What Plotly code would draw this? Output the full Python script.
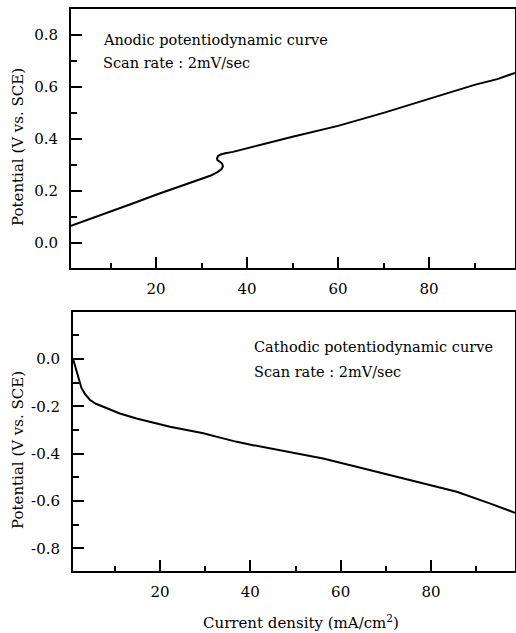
import plotly.graph_objects as go

# ---- data ----
anodic_x = [1.3, 5, 10, 15, 20, 25, 29.6, 31.9, 33.5, 34.4, 34.7, 34.5, 34.0, 33.5, 33.4,
            33.6, 34.2, 35.2, 36.9, 39.6, 42.9, 50, 60, 70, 80, 90, 95, 98.9]
anodic_y = [0.065, 0.088, 0.119, 0.152, 0.185, 0.216, 0.244, 0.258, 0.272, 0.284, 0.295,
            0.305, 0.312, 0.318, 0.325, 0.333, 0.340, 0.345, 0.350, 0.362, 0.377, 0.408,
            0.450, 0.500, 0.554, 0.608, 0.630, 0.654]

cath_x = [0.75, 1.2, 1.6, 2.0, 2.6, 3.4, 4.5, 5.8, 7.4, 9.0, 11.1, 14.8, 18.5, 22.2, 25.9,
          29.6, 33.3, 37.0, 40.6, 44.3, 48.8, 56.1, 63.5, 70.9, 78.3, 85.7, 93.0, 98.6]
cath_y = [0.0, -0.030, -0.060, -0.092, -0.122, -0.148, -0.173, -0.189, -0.202, -0.214,
          -0.230, -0.251, -0.269, -0.286, -0.300, -0.314, -0.332, -0.350, -0.364, -0.378,
          -0.392, -0.420, -0.455, -0.490, -0.526, -0.561, -0.610, -0.650]

x_tickvals = [20, 40, 60, 80]
x_ticktext = ["20", "40", "60", "80"]
top_y_tickvals = [0.0, 0.2, 0.4, 0.6, 0.8]
top_y_ticktext = ["0.0", "0.2", "0.4", "0.6", "0.8"]
bot_y_tickvals = [0.0, -0.2, -0.4, -0.6, -0.8]
bot_y_ticktext = ["0.0", "-0.2", "-0.4", "-0.6", "-0.8"]

W, H = 516, 633
FONT = "DejaVu Serif"

def px_x(p):
    return p / W

def px_y(p):
    return (H - p) / H

fig = go.Figure()
fig.add_trace(go.Scatter(x=anodic_x, y=anodic_y, mode="lines",
                         line=dict(color="black", width=2), xaxis="x", yaxis="y",
                         showlegend=False))
fig.add_trace(go.Scatter(x=cath_x, y=cath_y, mode="lines",
                         line=dict(color="black", width=2), xaxis="x2", yaxis="y2",
                         showlegend=False))

axis_common = dict(showline=True, mirror=True, linecolor="black", linewidth=2,
                   showgrid=False, zeroline=False, ticks="inside", ticklen=11,
                   tickwidth=2, tickcolor="black",
                   tickfont=dict(family=FONT, size=15, color="black"))

fig.update_layout(
    width=W, height=H,
    margin=dict(l=0, r=0, t=0, b=0),
    paper_bgcolor="white", plot_bgcolor="white",
    xaxis=dict(domain=[px_x(71), px_x(515)], range=[1.3, 98.9], anchor="y",
               tickvals=x_tickvals, ticktext=x_ticktext, ticklabelstandoff=6,
               minor=dict(ticks="inside", ticklen=5, tickwidth=2, tickcolor="black",
                          tickvals=[10, 30, 50, 70, 90]),
               **axis_common),
    yaxis=dict(domain=[px_y(268), px_y(9)], range=[-0.097, 0.9], anchor="x",
               tickvals=top_y_tickvals, ticktext=top_y_ticktext, ticklabelstandoff=8,
               minor=dict(ticks="inside", ticklen=6, tickwidth=2, tickcolor="black",
                          tickvals=[0.1, 0.3, 0.5, 0.7]),
               **axis_common),
    xaxis2=dict(domain=[px_x(73), px_x(515)], range=[0.73, 98.6], anchor="y2",
                tickvals=x_tickvals, ticktext=x_ticktext, ticklabelstandoff=6,
                minor=dict(ticks="inside", ticklen=5, tickwidth=2, tickcolor="black",
                           tickvals=[10, 30, 50, 70, 90]),
                **axis_common),
    yaxis2=dict(domain=[px_y(571), px_y(312)], range=[-0.896, 0.199], anchor="x2",
                tickvals=bot_y_tickvals, ticktext=bot_y_ticktext, ticklabelstandoff=8,
                minor=dict(ticks="inside", ticklen=6, tickwidth=2, tickcolor="black",
                           tickvals=[0.1, -0.1, -0.3, -0.5, -0.7]),
                **axis_common),
)

txt = dict(family=FONT, size=14.5, color="black")
ann = [
    dict(text="Anodic potentiodynamic curve", x=px_x(101), y=px_y(40)),
    dict(text="Scan rate : 2mV/sec", x=px_x(101), y=px_y(63)),
    dict(text="Cathodic potentiodynamic curve", x=px_x(252), y=px_y(347)),
    dict(text="Scan rate : 2mV/sec", x=px_x(252), y=px_y(372)),
]
for a in ann:
    fig.add_annotation(xref="paper", yref="paper", xanchor="left", yanchor="middle",
                       showarrow=False, font=txt, **a)

title_font = dict(family=FONT, size=15, color="black")
fig.add_annotation(text="Potential (V vs. SCE)", xref="paper", yref="paper",
                   x=px_x(18), y=px_y(147), textangle=-90, showarrow=False,
                   xanchor="center", yanchor="middle", font=title_font)
fig.add_annotation(text="Potential (V vs. SCE)", xref="paper", yref="paper",
                   x=px_x(18), y=px_y(450), textangle=-90, showarrow=False,
                   xanchor="center", yanchor="middle", font=title_font)
fig.add_annotation(text="Current density (mA/cm<sup>2</sup>)", xref="paper", yref="paper",
                   x=px_x(301), y=px_y(622), showarrow=False,
                   xanchor="center", yanchor="middle", font=title_font)

fig.write_html("out.html")
